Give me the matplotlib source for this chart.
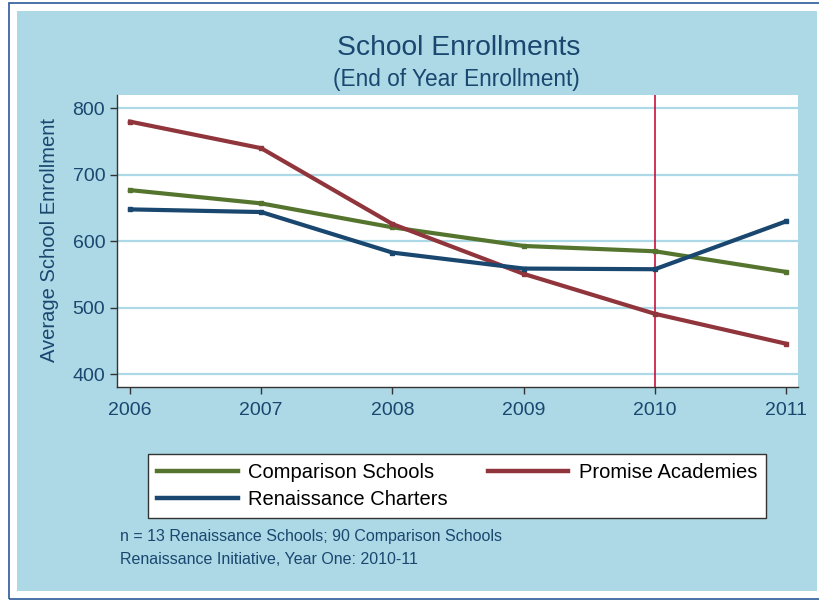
import matplotlib
matplotlib.use("Agg")
import matplotlib.pyplot as plt
from matplotlib.patches import Rectangle
from matplotlib.lines import Line2D

years = [2006, 2007, 2008, 2009, 2010, 2011]
comparison = [677, 657, 621, 593, 585, 554]
promise = [780, 740, 626, 551, 491, 446]
renaissance = [648, 644, 583, 559, 558, 630]
yticks = [400, 500, 600, 700, 800]
series_labels = ["Comparison Schools", "Promise Academies", "Renaissance Charters"]
title = "School Enrollments"
subtitle = "(End of Year Enrollment)"
ylabel = "Average School Enrollment"
notes = ["n = 13 Renaissance Schools; 90 Comparison Schools",
         "Renaissance Initiative, Year One: 2010-11"]
event_year = 2010

W, H = 819, 600
GREEN = "#55752f"
RED = "#90353b"
BLUE = "#1a476f"
BG = "#add8e6"
NAVY = "#1a476f"
plt.rcParams['font.family'] = ['Liberation Sans', 'DejaVu Sans']

fig = plt.figure(figsize=(W / 100, H / 100), dpi=100)
fig.patch.set_facecolor("white")

def fx(px):
    return px / W

def fy(py):
    return 1 - py / H

# outer border and light blue panel
fig.patches.append(Rectangle((fx(9), fy(599)), fx(840 - 9), (599 - 3) / H,
                             transform=fig.transFigure, facecolor="none",
                             edgecolor="#2a5a9a", lw=1.2, zorder=-10))
fig.patches.append(Rectangle((fx(17), fy(591)), fx(817 - 17), (591 - 11) / H,
                             transform=fig.transFigure, facecolor=BG,
                             edgecolor="none", zorder=-10))

ax = fig.add_axes([fx(117), fy(387), fx(798 - 117), (387 - 95) / H])
ax.set_zorder(1)
ax.set_facecolor("white")
ax.set_xlim(2005.901, 2011.091)
ax.set_ylim(380.9, 820)

for yv in yticks:
    ax.axhline(yv, color=BG, lw=1.6, zorder=1)
ax.axvline(event_year, color="#c8103c", lw=1.2, zorder=1.5)

ms = 3.5
ax.plot(years, comparison, color=GREEN, lw=3, marker="s", ms=ms, zorder=3,
        solid_joinstyle="round")
ax.plot(years, promise, color=RED, lw=3, marker="s", ms=ms, zorder=3,
        solid_joinstyle="round")
ax.plot(years, renaissance, color=BLUE, lw=3, marker="s", ms=ms, zorder=3,
        solid_joinstyle="round")

ax.set_xticks(years)
ax.set_yticks(yticks)
ax.tick_params(axis="both", colors="#333333", labelcolor=NAVY, labelsize=14,
               length=5, width=1, direction="out")
ax.tick_params(axis="y", pad=3.5)
ax.tick_params(axis="x", pad=6)
for s in ["top", "right"]:
    ax.spines[s].set_visible(False)
for s in ["left", "bottom"]:
    ax.spines[s].set_color("#333333")
    ax.spines[s].set_linewidth(1)

fig.text(fx(458.5), fy(55), title, ha="center", va="baseline",
         fontsize=20.3, color=NAVY)
fig.text(fx(456.5), fy(86), subtitle, ha="center", va="baseline",
         fontsize=16.3, color=NAVY)
fig.text(fx(50), fy(240), ylabel, rotation=90, ha="center", va="center",
         fontsize=14.5, color=NAVY)

handles = [Line2D([], [], color=GREEN, lw=3.2),
           Line2D([], [], color=BLUE, lw=3.2),
           Line2D([], [], color=RED, lw=3.2)]
labels = [series_labels[0], series_labels[2], series_labels[1]]
leg = fig.legend(handles, labels, loc="upper left",
                 bbox_to_anchor=(fx(148), fy(519), fx(766 - 148), 65 / H),
                 mode="expand", ncol=2, fontsize=14.5, frameon=True,
                 fancybox=False, edgecolor="#333333", facecolor="white",
                 framealpha=1, handlelength=4.0, handletextpad=0.5,
                 labelspacing=0.4, borderpad=0.45, borderaxespad=0)
leg.get_frame().set_linewidth(1)

fig.text(fx(120), fy(537), notes[0], ha="left", va="center",
         fontsize=11.5, color=NAVY)
fig.text(fx(120), fy(560), notes[1], ha="left", va="center",
         fontsize=11.5, color=NAVY)

fig.savefig("out.png", dpi=100, facecolor="white")
